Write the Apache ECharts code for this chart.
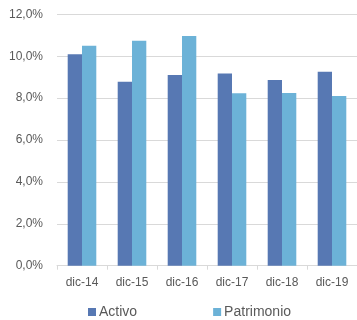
<!DOCTYPE html>
<html>
<head>
<meta charset="utf-8">
<script src="https://cdn.jsdelivr.net/npm/echarts@6/dist/echarts.min.js"></script>
<style>
  html, body { margin: 0; padding: 0; background: #fff; }
  #chart { width: 357px; height: 320px; }
</style>
</head>
<body>
<div id="chart"></div>
<script>
var categories = ['dic-14', 'dic-15', 'dic-16', 'dic-17', 'dic-18', 'dic-19'];
var activo = [10.09, 8.78, 9.10, 9.18, 8.86, 9.26];
var patrimonio = [10.50, 10.74, 10.96, 8.23, 8.24, 8.10];
var seriesNames = ['Activo', 'Patrimonio'];

var chart = echarts.init(document.getElementById('chart'));
var option = {
    animation: false,
    textStyle: { fontFamily: 'Liberation Sans, Arial, sans-serif' },
    legend: {
        data: seriesNames,
        left: 83,
        top: 300,
        itemWidth: 8,
        itemHeight: 8,
        itemGap: 76,
        icon: 'rect',
        textStyle: { fontSize: 14, color: '#595959', padding: [0, 0, 0, -2] }
    },
    grid: { left: 57, right: -4, top: 14.3, bottom: 54.3 },
    xAxis: {
        type: 'category',
        data: categories,
        axisLine: { lineStyle: { color: '#d9d9d9' } },
        axisTick: { show: true, length: 4, lineStyle: { color: '#d9d9d9' } },
        axisLabel: { color: '#595959', fontSize: 12, margin: 11 }
    },
    yAxis: {
        type: 'value',
        min: 0,
        max: 12,
        interval: 2,
        axisLabel: {
            color: '#595959',
            fontSize: 12,
            margin: 14,
            formatter: function (v) { return v.toFixed(1).replace('.', ',') + '%'; }
        },
        splitLine: { lineStyle: { color: '#d9d9d9' } },
        axisLine: { show: false },
        axisTick: { show: false }
    },
    series: [
        {
            name: seriesNames[0],
            type: 'bar',
            data: activo,
            barWidth: 14.3,
            barGap: '0%',
            itemStyle: { color: '#5778b3' }
        },
        {
            name: seriesNames[1],
            type: 'bar',
            data: patrimonio,
            barWidth: 14.3,
            itemStyle: { color: '#6cb2d7' }
        }
    ]
};
chart.setOption(option);
</script>
</body>
</html>
